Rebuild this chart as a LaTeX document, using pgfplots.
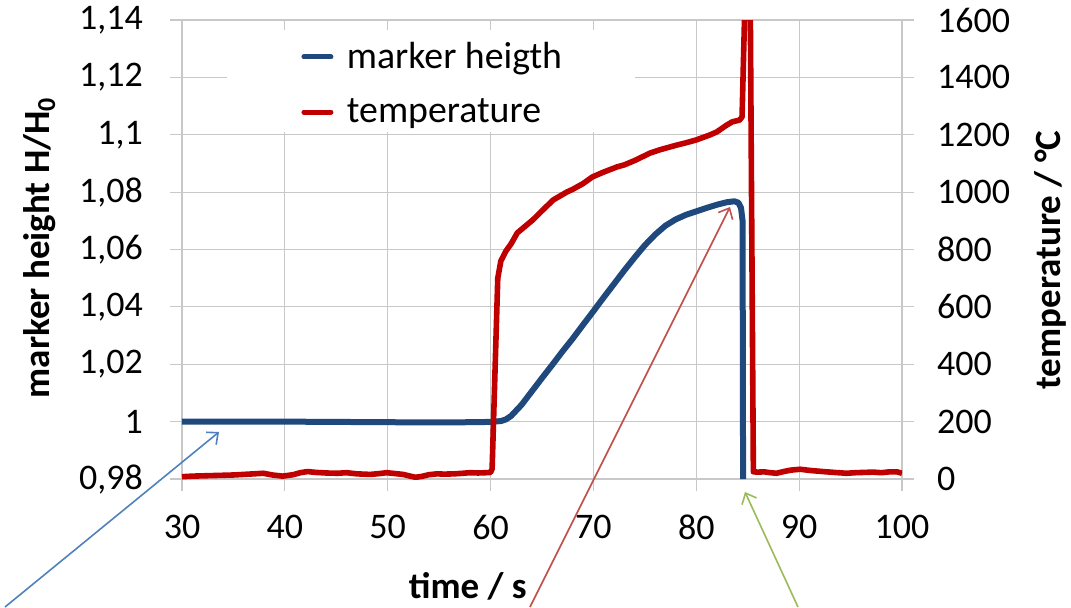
\documentclass[border=0pt]{standalone}
\usepackage{pgfplots}
\pgfplotsset{compat=1.18}
\usepackage{fontspec}
\setmainfont{Carlito}
\usetikzlibrary{arrows.meta}
\definecolor{hblue}{HTML}{1F497D}
\definecolor{tred}{HTML}{C00000}
\definecolor{gridgray}{HTML}{C8C8C8}
\definecolor{arrblue}{HTML}{4F81BD}
\definecolor{arrred}{HTML}{C0504D}
\definecolor{arrgreen}{HTML}{9BBB59}

\pgfplotstableread{
x y
30 1.0000
35 1.0000
40 1.0000
45 0.9999
50 0.9998
55 0.9997
58 0.9998
60 0.9999
61 1.0002
61.5 1.0008
62 1.0020
63 1.0058
64 1.0105
65 1.0152
66 1.0198
67 1.0245
68 1.0290
69 1.0338
70 1.0385
71 1.0433
72 1.0480
73 1.0527
74 1.0572
75 1.0615
76 1.0652
77 1.0683
78 1.0705
79 1.0721
80 1.0733
81 1.0745
82 1.0756
83 1.0765
83.7 1.0768
84.1 1.0763
84.35 1.0745
84.5 1.0700
84.55 0.9800
}\heighttable

\pgfplotstableread{
x T
30 8
31 10
32 11
33 12
34 13
35 14
36 16
37 18
37.9 20
38.8 14
39.8 10
40.8 15
41.5 22
42.2 26
43 23
44 21
45.1 20
46 22
47 18
48.3 16
49.2 19
49.9 22
50.7 19
51.5 16
52.2 10
52.7 6
53.3 9
54 15
54.8 18
55.5 17
56.5 18
57.3 20
58 22
58.8 21
59.6 22
60.0 23
60.15 35
60.7 700
61.0 760
61.5 795
62 820
62.6 858
63 870
64.1 903
65 935
66.1 973
67.4 1000
68 1010
69 1030
69.9 1053
71 1070
72.3 1088
73 1095
74 1110
75.5 1136
76.5 1148
78.1 1164
79 1172
80 1182
81.3 1199
82 1210
82.97 1234
83.5 1245
84.2 1251
84.45 1262
84.72 1650
85.25 1650
85.55 25
86 24
86.6 25
87.2 22
87.8 20
88.5 26
89.2 31
90.1 34
91 30
92.3 26
93.4 23
94.6 20
95.5 22
96.3 23
97.2 24
98 22
98.8 25
99.5 25
100 20
}\temptable

\pgfplotsset{
  basestyle/.style={
    width=360pt, height=229.5pt, scale only axis,
    xmin=30, xmax=100,
    tick align=outside, major tick length=6pt,
    tick style={color=gridgray, line width=0.6pt},
    axis line style={draw=none},
    /pgf/number format/assume math mode=true,
    /pgf/number format/use comma,
    /pgf/number format/1000 sep={},
    scaled ticks=false,
    tick label style={font=\fontsize{18}{22}\selectfont},
    label style={font=\fontsize{18.5}{22}\selectfont\bfseries},
  }
}

\begin{document}
\begin{tikzpicture}
\useasboundingbox (-91pt,-64pt) rectangle (444.5pt,239.5pt);
\begin{axis}[basestyle, at={(0pt,0pt)}, anchor=south west,
  ymin=0.98, ymax=1.14,
  ytick={0.98,1,1.02,1.04,1.06,1.08,1.1,1.12,1.14},
  xtick={30,40,50,60,70,80,90,100},
  xtick pos=bottom, ytick pos=left,
  xticklabel style={yshift=-8.5pt},
  yticklabel style={xshift=-10pt},
  grid=major, grid style={gridgray, line width=0.6pt},
  xlabel={time / s},
  ylabel={marker height H/H\textsubscript{0}},
  xlabel style={at={(axis description cs:0.397,-0.233)}, anchor=center},
  ylabel style={at={(axis description cs:-0.197,0.504)}, anchor=center},
]
\addplot[hblue, line width=3pt, line join=round, no markers] table[x=x, y=y] {\heighttable};
\end{axis}

\begin{axis}[basestyle, at={(0pt,0pt)}, anchor=south west,
  ymin=0, ymax=1600,
  ytick={0,200,400,600,800,1000,1200,1400,1600},
  axis x line=none, axis y line*=right,
  yticklabel style={xshift=8pt},
  ylabel={temperature / °C},
  ylabel style={at={(axis description cs:1.2056,0.477)}, anchor=center},
  legend style={at={(axis description cs:0.157,0.9696)}, anchor=north west,
    draw=none, fill=none, font=\fontsize{18.9}{22}\selectfont,
    row sep=9.5pt},
  legend cell align=left,
  legend image code/.code={\path[draw=none,fill=none] (0pt,0pt) -- (19.5pt,0pt);\draw[#1, line width=2.5pt, line cap=round] (0pt,0pt) -- (13.5pt,0pt);},
]
\fill[white] (axis description cs:0.0625,0.756) rectangle (axis description cs:0.629,0.978);
\addlegendimage{hblue}
\addlegendentry{marker heigth}
\addplot[tred, line width=2.8pt, line join=round, no markers] table[x=x, y=T] {\temptable};
\addlegendentry{temperature}
\end{axis}

\draw[arrblue, line width=0.8pt, -{Straight Barb[length=4.5pt,width=8pt]}] (-88.5pt,-64pt) -- (18.5pt,23.5pt);
\draw[arrred, line width=0.8pt, -{Straight Barb[length=4.5pt,width=8pt]}] (174pt,-64pt) -- (274pt,136pt);
\draw[arrgreen, line width=0.8pt, -{Straight Barb[length=4.5pt,width=8pt]}] (308pt,-64pt) -- (281.5pt,-6.5pt);
\end{tikzpicture}
\end{document}
